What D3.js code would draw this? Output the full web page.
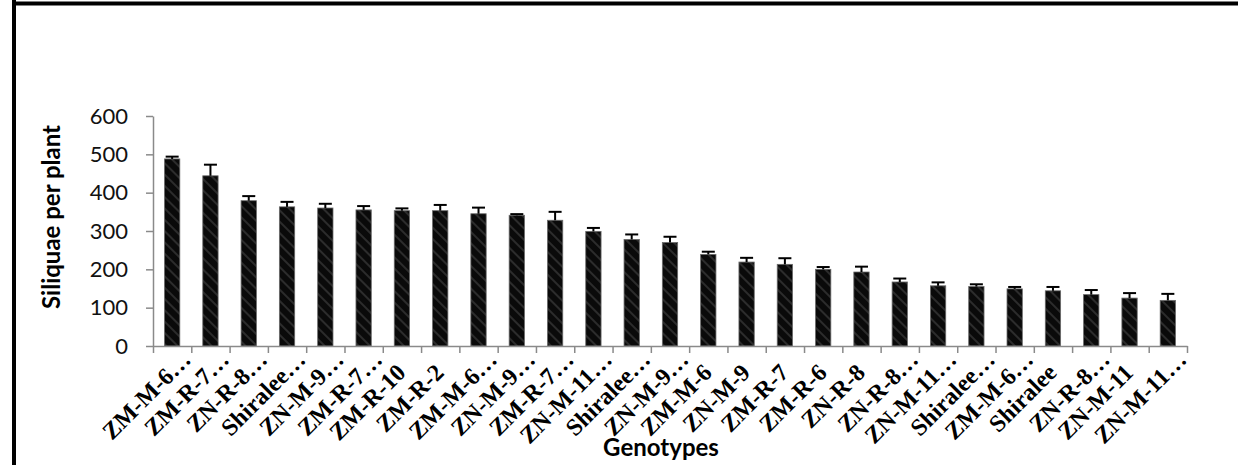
<!DOCTYPE html>
<html>
<head>
<meta charset="utf-8">
<script src="https://cdn.jsdelivr.net/npm/d3@7"></script>
<style>
  html, body { margin: 0; padding: 0; background: #fff; }
  svg { display: block; }
</style>
</head>
<body>
<svg id="chart" width="1238" height="465"></svg>
<script>
// Genotype labels as shown on the category axis (long names are cut with an ellipsis)
const categories = [
  "ZM-M-6…", "ZM-R-7…", "ZN-R-8…", "Shiralee…", "ZN-M-9…", "ZM-R-7…", "ZM-R-10",
  "ZM-R-2", "ZM-M-6…", "ZN-M-9…", "ZM-R-7…", "ZN-M-11…", "Shiralee…", "ZN-M-9…",
  "ZM-M-6", "ZN-M-9", "ZM-R-7", "ZM-R-6", "ZN-R-8", "ZN-R-8…", "ZN-M-11…",
  "Shiralee…", "ZM-M-6…", "Shiralee", "ZN-R-8…", "ZN-M-11", "ZN-M-11…"
];
// Mean siliquae per plant
const siliquae = [
  488, 444, 379, 363, 360, 355, 353,
  353, 345, 341, 328, 299, 278, 270,
  239, 219, 213, 200, 193, 167, 157,
  155, 149, 144, 134, 125, 119
];
// Upper error bar length
const errorUp = [
  6, 29, 12, 13, 11, 10, 6,
  15, 16, 3, 22, 9, 13, 15,
  7, 11, 16, 6, 14, 9, 9,
  6, 5, 10, 12, 13, 17
];
const yTickValues = [0, 100, 200, 300, 400, 500, 600];

const W = 1238, H = 465;
const plot = { left: 153, right: 1187, top: 116, bottom: 346 };
const svg = d3.select("#chart");

// Background and the heavy frame lines on the left and top
svg.append("rect").attr("width", W).attr("height", H).attr("fill", "#fff");
svg.append("line").attr("x1", 14).attr("x2", 14).attr("y1", 0).attr("y2", H)
  .attr("stroke", "#000").attr("stroke-width", 4);
svg.append("line").attr("x1", 12).attr("x2", W).attr("y1", 3.5).attr("y2", 3.5)
  .attr("stroke", "#000").attr("stroke-width", 4);

// Dark diagonal hatch used to fill the bars
const defs = svg.append("defs");
const pat = defs.append("pattern").attr("id", "hatch")
  .attr("patternUnits", "userSpaceOnUse").attr("width", 8).attr("height", 8)
  .attr("patternTransform", "rotate(-45)");
pat.append("rect").attr("width", 8).attr("height", 8).attr("fill", "#0a0a0a");
pat.append("rect").attr("x", 0).attr("width", 2).attr("height", 8).attr("fill", "#2c2c2c");

const idx = d3.range(categories.length);
const x = d3.scaleBand().domain(idx).range([plot.left, plot.right])
  .paddingInner(0.6).paddingOuter(0.3);
const xEdge = d3.scaleLinear().domain([0, categories.length]).range([plot.left, plot.right]);
const y = d3.scaleLinear().domain([0, 600]).range([plot.bottom, plot.top]);

const axisColor = "#8a8a8a";

// Y axis
const gy = svg.append("g").attr("transform", `translate(${plot.left},0)`)
  .call(d3.axisLeft(y).tickValues(yTickValues).tickSize(7).tickPadding(18).tickSizeOuter(0));
gy.select(".domain").attr("stroke", axisColor).attr("stroke-width", 1.5);
gy.selectAll(".tick line").attr("stroke", axisColor).attr("stroke-width", 1.5);
gy.selectAll(".tick text").attr("font-family", "Lato, 'Open Sans', sans-serif")
  .attr("font-size", 22).attr("fill", "#111");

// Bars
svg.append("g").selectAll("rect").data(idx).join("rect")
  .attr("x", i => x(i))
  .attr("width", x.bandwidth())
  .attr("y", i => y(siliquae[i]))
  .attr("height", i => y(0) - y(siliquae[i]))
  .attr("fill", "url(#hatch)")
  .attr("stroke", "#6a6a6a").attr("stroke-width", 0.8);

// Error bars (upper whisker with cap)
const eb = svg.append("g").attr("stroke", "#000").attr("stroke-width", 2);
eb.selectAll("line.v").data(idx).join("line").attr("class", "v")
  .attr("x1", i => x(i) + x.bandwidth() / 2).attr("x2", i => x(i) + x.bandwidth() / 2)
  .attr("y1", i => y(siliquae[i])).attr("y2", i => y(siliquae[i] + errorUp[i]));
eb.selectAll("line.c").data(idx).join("line").attr("class", "c")
  .attr("x1", i => x(i) + x.bandwidth() / 2 - 6.5).attr("x2", i => x(i) + x.bandwidth() / 2 + 6.5)
  .attr("y1", i => y(siliquae[i] + errorUp[i])).attr("y2", i => y(siliquae[i] + errorUp[i]));

// X axis with tick marks between categories
const gx = svg.append("g").attr("transform", `translate(0,${plot.bottom})`)
  .call(d3.axisBottom(xEdge).tickValues(d3.range(categories.length + 1)).tickSize(7)
    .tickSizeOuter(0).tickFormat(""));
gx.select(".domain").attr("stroke", axisColor).attr("stroke-width", 1.5);
gx.selectAll(".tick line").attr("stroke", axisColor).attr("stroke-width", 1.5);

// Rotated category labels
svg.append("g").selectAll("text").data(idx).join("text")
  .attr("transform", i => {
    const cx = x(i) + x.bandwidth() / 2;
    const cut = categories[i].endsWith("…");
    const bx = cx + (cut ? 20 : 5);
    const by = plot.bottom + (cut ? 15 : 28);
    return `translate(${bx},${by}) rotate(-45)`;
  })
  .attr("text-anchor", "end")
  .attr("font-family", "'Liberation Serif', 'Times New Roman', serif")
  .attr("font-weight", "bold")
  .attr("font-size", 24)
  .attr("fill", "#000")
  .text(i => categories[i]);

// Axis titles
svg.append("text")
  .attr("transform", "translate(60,217) rotate(-90)")
  .attr("text-anchor", "middle")
  .attr("font-family", "Lato, 'Open Sans', sans-serif")
  .attr("font-weight", "bold").attr("font-size", 24).attr("fill", "#000")
  .text("Siliquae per plant");
svg.append("text")
  .attr("x", 661).attr("y", 456)
  .attr("text-anchor", "middle")
  .attr("font-family", "Lato, 'Open Sans', sans-serif")
  .attr("font-weight", "bold").attr("font-size", 24).attr("fill", "#000")
  .text("Genotypes");
</script>
</body>
</html>
